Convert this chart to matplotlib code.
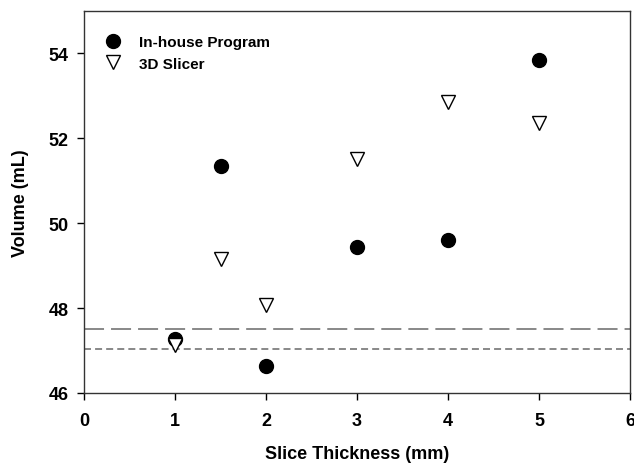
import matplotlib
matplotlib.use("Agg")
import matplotlib.pyplot as plt

plt.rcParams['font.family'] = ['Liberation Sans', 'DejaVu Sans']
plt.rcParams['font.weight'] = 'bold'

x_inhouse = [1, 1.5, 2, 3, 4, 5]
y_inhouse = [47.27, 51.35, 46.63, 49.44, 49.61, 53.85]
x_slicer = [1, 1.5, 2, 3, 4, 5]
y_slicer = [47.12, 49.16, 48.07, 51.52, 52.85, 52.37]
ref_long = 47.51
ref_short = 47.04
xticks = [0, 1, 2, 3, 4, 5, 6]
yticks = [46, 48, 50, 52, 54]

fig = plt.figure(figsize=(6.34, 4.64), dpi=100)
ax = fig.add_axes([0.1325, 0.1509, 0.8612, 0.8233])

ax.axhline(ref_long, color='#888888', lw=1.4, dashes=(10.3, 3.6), zorder=1)
ax.axhline(ref_short, color='#888888', lw=1.4, dashes=(3.6, 2.1), zorder=1)

ax.plot(x_inhouse, y_inhouse, 'o', color='black', markersize=10, linestyle='none',
        label='In-house Program', zorder=3)
ax.plot(x_slicer, y_slicer, 'v', markerfacecolor='white', markeredgecolor='black',
        markeredgewidth=1.0, markersize=10, linestyle='none', label='3D Slicer', zorder=3)

ax.set_xlim(0, 6)
ax.set_ylim(46, 55)
ax.set_xticks(xticks)
ax.set_yticks(yticks)
ax.tick_params(direction='out', length=5, width=1, labelsize=13)
ax.tick_params(axis='x', pad=9)
ax.tick_params(axis='y', pad=6)
for lbl in ax.get_xticklabels() + ax.get_yticklabels():
    lbl.set_fontweight('bold')
for s in ax.spines.values():
    s.set_linewidth(1.0)
    s.set_color('#333333')

ax.set_xlabel('Slice Thickness (mm)', fontsize=13, fontweight='bold', labelpad=11)
ax.set_ylabel('Volume (mL)', fontsize=13, fontweight='bold', labelpad=14)

leg = ax.legend(loc='upper left', bbox_to_anchor=(0.014, 0.953), frameon=False,
                fontsize=11, handletextpad=0.7, borderaxespad=0.0, borderpad=0.4,
                labelspacing=0.5, handlelength=2.0)
for t in leg.get_texts():
    t.set_fontweight('bold')

fig.savefig('out.png', dpi=100)
